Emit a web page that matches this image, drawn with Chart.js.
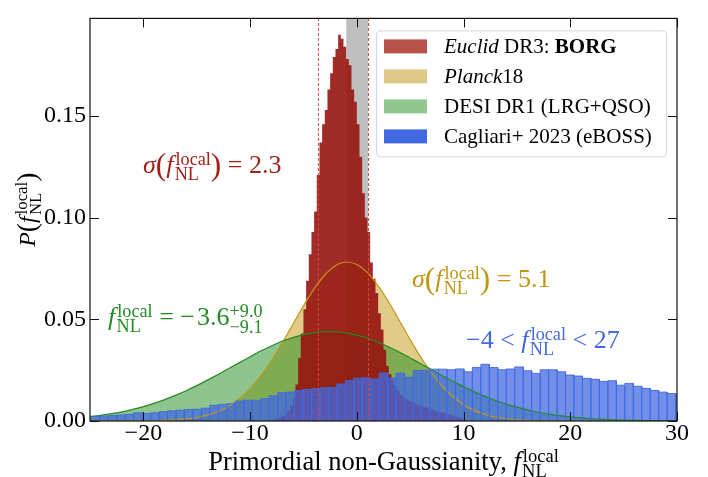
<!DOCTYPE html>
<html>
<head>
<meta charset="utf-8">
<script src="https://cdn.jsdelivr.net/npm/chart.js@4.4.1/dist/chart.umd.min.js"></script>
<style>
  html, body { margin: 0; padding: 0; background: #fff; }
</style>
</head>
<body>
<canvas id="grafica" width="708" height="477"></canvas>
<script>
// Rango de los ejes y marcas
const xMin = -25, xMax = 30;
const yMin = 0, yMax = 0.198;
const xTicks = [-20, -10, 0, 10, 20, 30];
const yTicks = [0, 0.05, 0.10, 0.15];

// Euclid DR3: BORG (histograma: borde del primer bin y ancho)
const redFirstEdge = -8.0;
const redBinWidth = 0.25;
const redValues = [
  0.0005, 0.001, 0.0012, 0.0018, 0.0025, 0.0035, 0.005, 0.0075, 0.011, 0.018,
  0.031, 0.043, 0.055, 0.069, 0.082, 0.093, 0.103, 0.121, 0.137, 0.146,
  0.153, 0.163, 0.171, 0.179, 0.183, 0.190, 0.188, 0.184, 0.178, 0.175,
  0.163, 0.157, 0.146, 0.130, 0.112, 0.100, 0.093, 0.078, 0.070, 0.063,
  0.053, 0.045, 0.035, 0.027, 0.023, 0.020, 0.017, 0.015, 0.013, 0.012,
  0.011, 0.010, 0.0095, 0.009, 0.0082, 0.0078, 0.0072, 0.0068, 0.0065, 0.006,
  0.0055, 0.005, 0.0047, 0.0043, 0.004, 0.0036, 0.0032, 0.0028, 0.0024, 0.002,
  0.0016, 0.0012
];

// Cagliari+ 2023 (eBOSS) (histograma: borde del primer bin y ancho)
const blueFirstEdge = -24.88;
const blueBinWidth = 0.7935;
const blueValues = [
  0.0024, 0.0025, 0.0027, 0.0030, 0.0033, 0.0040, 0.0037, 0.0040, 0.0046, 0.0050,
  0.0053, 0.0057, 0.0058, 0.0063, 0.0077, 0.0082, 0.0085, 0.0098, 0.0102, 0.0102,
  0.0110, 0.0124, 0.0139, 0.0142, 0.0150, 0.0155, 0.0160, 0.0163, 0.0165, 0.0182,
  0.0198, 0.0210, 0.0212, 0.0206, 0.0236, 0.0211, 0.0236, 0.0215, 0.0248, 0.0250,
  0.0255, 0.0255, 0.0252, 0.0256, 0.0242, 0.0263, 0.0279, 0.0263, 0.0252, 0.0256,
  0.0266, 0.0247, 0.0234, 0.0252, 0.0252, 0.0242, 0.0226, 0.0221, 0.0210, 0.0205,
  0.0195, 0.0198, 0.0176, 0.0185, 0.0171, 0.0160, 0.0150, 0.0142, 0.0135, 0.0130
];

// Planck18 (curva)
const planckX = [-25, -20, -18, -16, -15, -14, -13, -12, -11, -10, -9, -8, -7, -6, -5, -4, -3, -2, -1,
  0, 1, 2, 3, 4, 5, 6, 7, 8, 9, 10, 11, 12, 13, 14, 16, 18, 20, 30];
const planckY = [0, 0.0001, 0.0003, 0.0010, 0.0017, 0.0029, 0.0047, 0.0073, 0.0110, 0.0159, 0.0222,
  0.0297, 0.0382, 0.0474, 0.0566, 0.0650, 0.0718, 0.0764, 0.0782, 0.0770, 0.0730, 0.0665, 0.0584,
  0.0493, 0.0400, 0.0313, 0.0236, 0.0171, 0.0119, 0.0080, 0.0051, 0.0032, 0.0019, 0.0011, 0.0003,
  0.0001, 0, 0];

// DESI DR1 (LRG+QSO) (curva)
const desiX = [-25, -24, -23, -22, -21, -20, -19, -18, -17, -16, -15, -14, -13, -12, -11, -10, -9, -8,
  -7, -6, -5, -4, -3, -2, -1, 0, 1, 2, 3, 4, 5, 6, 7, 8, 9, 10, 11, 12, 13, 14, 15, 16, 17, 18, 19,
  20, 21, 22, 23, 24, 25, 26, 27, 28, 29, 30];
const desiY = [0.0021, 0.0028, 0.0036, 0.0045, 0.0057, 0.0071, 0.0087, 0.0105, 0.0126, 0.0149,
  0.0174, 0.0201, 0.0229, 0.0258, 0.0287, 0.0316, 0.0344, 0.0369, 0.0392, 0.0410, 0.0425, 0.0435,
  0.0440, 0.0439, 0.0433, 0.0422, 0.0407, 0.0387, 0.0364, 0.0338, 0.0310, 0.0282, 0.0252, 0.0223,
  0.0195, 0.0169, 0.0144, 0.0121, 0.0101, 0.0083, 0.0068, 0.0055, 0.0043, 0.0034, 0.0026, 0.0020,
  0.0015, 0.0011, 0.0008, 0.0006, 0.0004, 0.0003, 0.0002, 0.0002, 0.0001, 0.0001];

// Banda gris e intervalo (líneas discontinuas)
const grayBand = [-1.0, 1.05];
const borgInterval = [-3.6, 1.1];

const serif = '"Liberation Serif", "DejaVu Serif", serif';

// Textos con subíndices/superíndices
function fontOf(p, size) {
  return (p.it ? 'italic ' : '') + (p.b ? 'bold ' : '') + size.toFixed(1) + 'px ' + serif;
}

function partWidth(ctx, p, size) {
  if (p.sup !== undefined) {
    ctx.font = fontOf({}, size * 0.7);
    return Math.max(ctx.measureText(p.sup).width, ctx.measureText(p.sub).width) + (p.pad || 0) * size;
  }
  ctx.font = fontOf(p, size * (p.k || 1));
  return ctx.measureText(p.t).width + (p.pad || 0) * size;
}

function drawMath(ctx, parts, x, y, size, color, align) {
  ctx.save();
  ctx.fillStyle = color;
  ctx.textAlign = 'left';
  ctx.textBaseline = 'alphabetic';
  const total = parts.reduce((s, p) => s + partWidth(ctx, p, size), 0);
  let cx = align === 'center' ? x - total / 2 : x;
  parts.forEach(p => {
    const w = partWidth(ctx, p, size);
    if (p.sup !== undefined) {
      ctx.font = fontOf({}, size * 0.7);
      ctx.fillText(p.sup, cx + (p.supDx || 0) * size, y + (p.supDy || -0.32) * size);
      ctx.fillText(p.sub, cx, y + (p.subDy || 0.26) * size);
    } else {
      ctx.font = fontOf(p, size * (p.k || 1));
      ctx.fillText(p.t, cx + (p.dx || 0) * size, y + (p.dy || 0) * size);
    }
    cx += w;
  });
  ctx.restore();
}

const fLocal = [{ t: 'f', it: 1, pad: 0.05 }, { sup: 'local', sub: 'NL', supDx: 0.03, pad: 0.03 }];

const annotations = [
  { parts: [{ t: 'σ', it: 1 }, { t: '(', k: 1.2, dy: 0.06 }, ...fLocal, { t: ')', k: 1.2, dy: 0.06 }, { t: ' = 2.3' }],
    x: 143, y: 173, size: 26, color: 'rgb(165,30,22)' },
  { parts: [{ t: 'σ', it: 1 }, { t: '(', k: 1.2, dy: 0.06 }, ...fLocal, { t: ')', k: 1.2, dy: 0.06 }, { t: ' = 5.1' }],
    x: 412, y: 287, size: 26, color: 'rgb(192,150,18)' },
  { parts: [...fLocal, { t: ' = \u2212', pad: 0.08 }, { t: '3.6' }, { sup: '+9.0', sub: '\u22129.1', supDy: -0.3, subDy: 0.3 }],
    x: 108, y: 325, size: 26, color: 'rgb(34,139,34)' },
  { parts: [{ t: '\u22124 < ' }, ...fLocal, { t: ' < 27' }],
    x: 466, y: 348, size: 26, color: 'rgb(65,105,225)' }
];

const legendItems = [
  { parts: [{ t: 'Euclid', it: 1 }, { t: ' DR3: ' }, { t: 'BORG', b: 1 }], color: 'rgb(183,82,74)' },
  { parts: [{ t: 'Planck', it: 1 }, { t: '18' }], color: 'rgb(221,200,136)' },
  { parts: [{ t: 'DESI DR1 (LRG+QSO)' }], color: 'rgb(145,198,145)' },
  { parts: [{ t: 'Cagliari+ 2023 (eBOSS)' }], color: 'rgb(65,105,225)' }
];

// Marco, marcas hacia dentro, textos y leyenda
const decoracion = {
  id: 'decoracion',
  afterDraw(chart) {
    const ctx = chart.ctx;
    const ca = chart.chartArea;
    const sx = chart.scales.x, sy = chart.scales.y;

    ctx.save();
    ctx.strokeStyle = '#111';
    ctx.lineWidth = 1;
    xTicks.forEach(v => {
      const px = Math.round(sx.getPixelForValue(v)) + 0.5;
      ctx.beginPath();
      ctx.moveTo(px, ca.bottom); ctx.lineTo(px, ca.bottom - 9);
      ctx.moveTo(px, ca.top); ctx.lineTo(px, ca.top + 9);
      ctx.stroke();
    });
    yTicks.forEach(v => {
      const py = Math.round(sy.getPixelForValue(v)) + 0.5;
      ctx.beginPath();
      ctx.moveTo(ca.left, py); ctx.lineTo(ca.left + 9, py);
      ctx.moveTo(ca.right, py); ctx.lineTo(ca.right - 9, py);
      ctx.stroke();
    });
    ctx.lineWidth = 1.2;
    ctx.strokeRect(ca.left, ca.top, ca.right - ca.left, ca.bottom - ca.top);
    ctx.restore();

    annotations.forEach(a => drawMath(ctx, a.parts, a.x, a.y, a.size, a.color, 'left'));

    // Título eje x
    drawMath(ctx, [{ t: 'Primordial non-Gaussianity, ' }, ...fLocal],
      (ca.left + ca.right) / 2, 470, 26.5, '#000', 'center');

    // Título eje y (rotado)
    ctx.save();
    ctx.translate(35, (ca.top + ca.bottom) / 2 - 10);
    ctx.rotate(-Math.PI / 2);
    drawMath(ctx, [{ t: 'P', it: 1 }, { t: '(', k: 1.15, dy: 0.05 }, ...fLocal, { t: ')', k: 1.15, dy: 0.05 }], 0, 0, 24, '#000', 'center');
    ctx.restore();

    // Leyenda
    const bx = ca.right - 301, by = ca.top + 12, bw = 290, bh = 126;
    ctx.save();
    ctx.fillStyle = 'rgba(255,255,255,0.85)';
    ctx.strokeStyle = 'rgb(214,214,214)';
    ctx.lineWidth = 1;
    ctx.beginPath();
    ctx.roundRect(bx + 0.5, by + 0.5, bw, bh, 4);
    ctx.fill();
    ctx.stroke();
    legendItems.forEach((item, i) => {
      const base = by + 23 + i * 30;
      ctx.fillStyle = item.color;
      ctx.fillRect(bx + 8, base - 14, 43, 14);
      drawMath(ctx, item.parts, bx + 68, base, 21, '#000', 'left');
    });
    ctx.restore();
  }
};

// Histograma como contorno escalonado (bordes de cada bin)
function histPoints(firstEdge, width, values) {
  const pts = [];
  values.forEach((v, i) => {
    const l = firstEdge + i * width, r = l + width;
    pts.push({ x: l, y: 0 }, { x: l, y: v }, { x: r, y: v }, { x: r, y: 0 });
  });
  return pts;
}

const redData = histPoints(redFirstEdge, redBinWidth, redValues);
const blueData = histPoints(blueFirstEdge, blueBinWidth, blueValues);
const planckData = planckX.map((x, i) => ({ x: x, y: planckY[i] }));
const desiData = desiX.map((x, i) => ({ x: x, y: desiY[i] }));

Chart.defaults.font.family = serif;
Chart.defaults.color = '#000';

new Chart(document.getElementById('grafica'), {
  type: 'line',
  data: {
    datasets: [
      { label: 'banda', data: [{ x: grayBand[0], y: 1 }, { x: grayBand[1], y: 1 }],
        borderWidth: 0, borderColor: 'rgba(0,0,0,0)', pointRadius: 0,
        fill: 'origin', backgroundColor: 'rgb(191,191,191)', order: 9 },
      { label: 'Planck18', data: planckData, borderColor: 'rgb(196,150,24)', borderWidth: 1.2,
        backgroundColor: 'rgba(200,160,40,0.55)', fill: 'origin', pointRadius: 0,
        cubicInterpolationMode: 'monotone', order: 8 },
      { label: 'DESI DR1 (LRG+QSO)', data: desiData, borderColor: 'rgb(34,139,34)', borderWidth: 1.2,
        backgroundColor: 'rgba(30,140,30,0.5)', fill: 'origin', pointRadius: 0,
        cubicInterpolationMode: 'monotone', order: 7 },
      { label: 'Euclid DR3: BORG', data: redData, borderWidth: 0, borderColor: 'rgba(0,0,0,0)',
        backgroundColor: 'rgba(150,20,15,0.9)', fill: 'origin', pointRadius: 0, order: 6 },
      { label: 'Cagliari+ 2023 (eBOSS)', data: blueData, borderWidth: 1, borderColor: 'rgba(65,105,225,0.9)',
        backgroundColor: 'rgba(65,105,225,0.75)', fill: 'origin', pointRadius: 0, order: 5 },
      { label: 'izq', data: [{ x: borgInterval[0], y: 0 }, { x: borgInterval[0], y: 1 }],
        borderColor: 'rgb(214,72,60)', borderWidth: 1, borderDash: [3, 2], pointRadius: 0, fill: false, order: 4 },
      { label: 'der', data: [{ x: borgInterval[1], y: 0 }, { x: borgInterval[1], y: 1 }],
        borderColor: 'rgb(214,72,60)', borderWidth: 1, borderDash: [3, 2], pointRadius: 0, fill: false, order: 4 }
    ]
  },
  options: {
    responsive: false,
    animation: false,
    layout: { padding: { top: 10, right: 31, left: 0, bottom: 0 } },
    plugins: {
      legend: { display: false },
      tooltip: { enabled: false },
      filler: { drawTime: 'beforeDatasetsDraw' }
    },
    scales: {
      x: {
        type: 'linear', min: xMin, max: xMax, offset: false,
        grid: { display: false, drawTicks: false }, border: { display: false },
        ticks: {
          stepSize: 10, includeBounds: false, padding: -2, autoSkip: false, maxRotation: 0,
          font: { size: 24 }, color: '#000',
          callback: v => (v < 0 ? '\u2212' + Math.abs(v) : String(v))
        },
        afterFit: s => { s.height = 56; }
      },
      y: {
        type: 'linear', min: yMin, max: yMax,
        grid: { display: false, drawTicks: false }, border: { display: false },
        ticks: { stepSize: 0.05, includeBounds: false, padding: 4, font: { size: 24 }, color: '#000',
          callback: v => v.toFixed(2) },
        afterFit: s => { s.width = 90; }
      }
    }
  },
  plugins: [decoracion]
});
</script>
</body>
</html>
